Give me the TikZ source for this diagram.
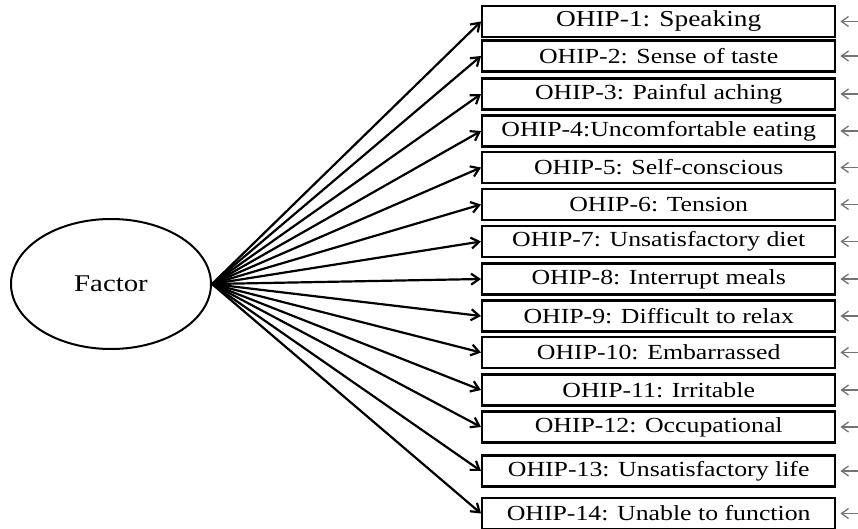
\documentclass[tikz,border=0pt]{standalone}
\usepackage{fontspec}
\setmainfont{Liberation Serif}[FakeStretch=1.2]
\usetikzlibrary{arrows.meta,shapes.geometric}
\begin{document}
\begin{tikzpicture}[x=1pt,y=-1pt,
  ohip/.style={draw,line width=2.4pt,minimum width=353pt,minimum height=31pt,inner sep=0pt,
    font=\fontsize{21.5}{21.5}\selectfont,anchor=west},
  latent/.style={draw,ellipse,line width=2pt,minimum width=200pt,minimum height=130pt,
    inner sep=0pt,font=\fontsize{24}{24}\selectfont},
  load/.style={line width=2.2pt,-{Straight Barb[length=8pt,width=11pt,line width=2.2pt]}},
  err/.style={black!55,line width=1.3pt,-{Straight Barb[length=7pt,width=10pt,line width=1.3pt]}}]
\useasboundingbox (0,0) rectangle (858,529);
\node[latent] (f) at (111,284) {Factor};
\foreach \i/\y/\t in {
  1/21.5/{\fontsize{22.8}{22.8}\selectfont OHIP-1: Speaking},
  2/56/{OHIP-2: Sense of taste},
  3/94/{OHIP-3: Painful aching},
  4/131/{OHIP-4:Uncomfortable eating},
  5/167.5/{OHIP-5: Self-conscious},
  6/204.5/{OHIP-6: Tension},
  7/241.5/{OHIP-7: Unsatisfactory diet},
  8/279/{OHIP-8: Interrupt meals},
  9/316/{OHIP-9: Difficult to relax},
  10/352.5/{OHIP-10: Embarrassed},
  11/390/{OHIP-11: Irritable},
  12/427/{OHIP-12: Occupational},
  13/471/{OHIP-13: Unsatisfactory life},
  14/513.5/{OHIP-14: Unable to function}}{
  \node[ohip] (o\i) at (481,\y) {\t};
  \coordinate (e\i) at (858,\y);
  \draw[load] (f.east) -- (o\i.west);
  \draw[err,shorten >=4pt] (e\i) -- (o\i.east);
}
\end{tikzpicture}
\end{document}
